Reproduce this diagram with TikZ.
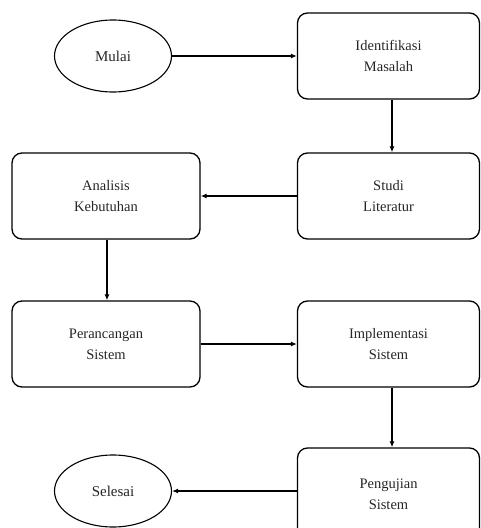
\documentclass[tikz,border=0pt]{standalone}
\usepackage{fontspec}
\setmainfont{Liberation Serif}
\usetikzlibrary{shapes.geometric,arrows.meta}
\begin{document}
\begin{tikzpicture}[x=1pt,y=-1pt,
  box/.style={draw, line width=1.3pt, rounded corners=10pt, minimum height=86pt, inner sep=0pt, align=center, font=\fontsize{14.5}{21}\selectfont, text=black!85},
  rbox/.style={box, minimum width=182pt},
  lbox/.style={box, minimum width=188pt},
  term/.style={draw, line width=1.1pt, ellipse, minimum width=117pt, minimum height=72pt, inner sep=0pt, font=\fontsize{15}{18}\selectfont, text=black!85},
  flow/.style={line width=1.4pt, -{Latex[length=6pt,width=5pt]}}]
\useasboundingbox (0,0) rectangle (481,528);
\clip (0,0) rectangle (481,528);
\node[term] (mulai) at (113,56) {Mulai};
\node[rbox] (ident) at (388.5,56) {Identifikasi\\Masalah};
\node[rbox] (studi) at (388.5,196) {Studi\\Literatur};
\node[lbox] (anal) at (106,196) {Analisis\\Kebutuhan};
\node[lbox] (peran) at (106,344) {Perancangan\\Sistem};
\node[rbox] (impl) at (388.5,344) {Implementasi\\Sistem};
\node[rbox, minimum height=92pt] (uji) at (388.5,494) {Pengujian\\Sistem};
\node[term] (selesai) at (113,491) {Selesai};
\draw[flow] (mulai) -- (ident);
\draw[flow] ([xshift=3.5pt]ident.south) -- ([xshift=3.5pt]studi.north);
\draw[flow] (studi) -- (anal);
\draw[flow] ([xshift=1pt]anal.south) -- ([xshift=1pt]peran.north);
\draw[flow] (peran) -- (impl);
\draw[flow] ([xshift=3.5pt]impl.south) -- ([xshift=3.5pt]uji.north);
\draw[flow] (uji.west |- selesai) -- (selesai);
\end{tikzpicture}
\end{document}
